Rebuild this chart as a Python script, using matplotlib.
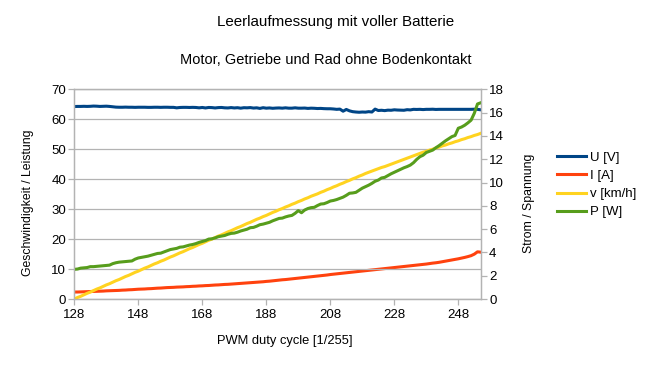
import matplotlib
matplotlib.use("Agg")
import matplotlib.pyplot as plt
from matplotlib.lines import Line2D

plt.rcParams['font.family'] = ['Liberation Sans', 'DejaVu Sans']

# ---- data ----
pwm = list(range(128, 256))

power_w = [
    9.9, 10.0, 10.3, 10.4, 10.5, 10.8, 10.8, 10.9, 11.0, 11.1,
    11.2, 11.3, 11.8, 12.1, 12.3, 12.4, 12.5, 12.6, 12.7, 13.3,
    13.7, 13.9, 14.1, 14.3, 14.6, 14.9, 15.2, 15.3, 15.7, 16.1,
    16.5, 16.7, 16.9, 17.3, 17.4, 17.7, 18.0, 18.2, 18.5, 18.9,
    19.2, 19.5, 20.0, 20.1, 20.4, 20.8, 21.0, 21.2, 21.6, 21.9,
    22.0, 22.3, 22.7, 23.0, 23.3, 23.8, 23.9, 24.3, 24.8, 25.0,
    25.3, 25.6, 26.1, 26.5, 26.9, 27.0, 27.4, 27.7, 27.9, 28.6,
    29.5, 28.8, 29.7, 30.2, 30.5, 30.6, 31.2, 31.7, 31.8, 32.2,
    32.7, 32.9, 33.2, 33.6, 34.0, 34.6, 35.3, 35.4, 35.6, 36.3,
    37.0, 37.5, 38.0, 38.6, 39.3, 39.7, 40.4, 40.6, 41.2, 41.8,
    42.3, 42.8, 43.3, 43.8, 44.2, 44.7, 45.5, 46.6, 47.5, 48.0,
    48.9, 49.3, 49.7, 50.5, 51.2, 52.0, 52.8, 53.5, 54.2, 54.6,
    57.0, 57.4, 58.0, 58.8, 59.7, 62.0, 65.1, 65.5,
]

speed_kmh = [
    0.0, 0.5, 0.9, 1.4, 1.9, 2.3, 2.8, 3.3, 3.7, 4.2,
    4.7, 5.1, 5.6, 6.1, 6.5, 7.0, 7.5, 7.9, 8.4, 8.9,
    9.3, 9.8, 10.3, 10.7, 11.2, 11.7, 12.1, 12.6, 13.0, 13.5,
    14.0, 14.4, 14.9, 15.4, 15.8, 16.3, 16.8, 17.2, 17.7, 18.2,
    18.6, 19.1, 19.6, 20.0, 20.5, 21.0, 21.4, 21.9, 22.4, 22.8,
    23.3, 23.8, 24.2, 24.7, 25.2, 25.6, 26.1, 26.6, 27.0, 27.5,
    27.9, 28.4, 28.9, 29.3, 29.8, 30.2, 30.7, 31.1, 31.6, 32.0,
    32.5, 32.9, 33.4, 33.8, 34.3, 34.7, 35.1, 35.6, 36.0, 36.5,
    36.9, 37.4, 37.8, 38.3, 38.7, 39.2, 39.6, 40.1, 40.5, 41.0,
    41.4, 41.9, 42.3, 42.7, 43.1, 43.5, 43.9, 44.2, 44.6, 45.0,
    45.4, 45.8, 46.2, 46.6, 47.0, 47.4, 47.8, 48.2, 48.6, 49.0,
    49.3, 49.7, 50.0, 50.4, 50.7, 51.1, 51.4, 51.8, 52.1, 52.5,
    52.8, 53.2, 53.5, 53.9, 54.2, 54.6, 54.9, 55.3,
]

voltage_v = [
    16.52, 16.53, 16.53, 16.54, 16.53, 16.54, 16.56, 16.55, 16.53, 16.54,
    16.55, 16.53, 16.50, 16.47, 16.46, 16.46, 16.47, 16.46, 16.46, 16.45,
    16.46, 16.46, 16.46, 16.45, 16.45, 16.46, 16.46, 16.45, 16.46, 16.46,
    16.45, 16.45, 16.41, 16.44, 16.45, 16.45, 16.44, 16.45, 16.44, 16.41,
    16.44, 16.40, 16.44, 16.43, 16.40, 16.43, 16.44, 16.41, 16.40, 16.43,
    16.40, 16.42, 16.38, 16.42, 16.41, 16.43, 16.39, 16.41, 16.36, 16.42,
    16.38, 16.40, 16.37, 16.39, 16.40, 16.38, 16.41, 16.38, 16.38, 16.41,
    16.38, 16.38, 16.39, 16.36, 16.38, 16.37, 16.35, 16.36, 16.34, 16.33,
    16.33, 16.31, 16.28, 16.30, 16.12, 16.27, 16.15, 16.08, 16.05, 16.03,
    16.05, 16.04, 16.08, 16.05, 16.30, 16.18, 16.20, 16.17, 16.21, 16.20,
    16.24, 16.22, 16.21, 16.20, 16.25, 16.23, 16.28, 16.27, 16.28, 16.26,
    16.28, 16.28, 16.29, 16.27, 16.28, 16.28, 16.28, 16.28, 16.28, 16.28,
    16.28, 16.28, 16.28, 16.28, 16.28, 16.29, 16.28, 16.24,
]

current_a = [
    0.60, 0.60, 0.61, 0.62, 0.63, 0.64, 0.65, 0.66, 0.67, 0.68,
    0.70, 0.71, 0.72, 0.73, 0.74, 0.76, 0.77, 0.79, 0.80, 0.82,
    0.84, 0.85, 0.86, 0.88, 0.89, 0.91, 0.93, 0.94, 0.96, 0.98,
    0.99, 1.00, 1.02, 1.03, 1.04, 1.06, 1.07, 1.09, 1.10, 1.12,
    1.13, 1.15, 1.16, 1.18, 1.20, 1.21, 1.23, 1.25, 1.26, 1.28,
    1.30, 1.32, 1.34, 1.36, 1.38, 1.40, 1.42, 1.44, 1.46, 1.48,
    1.51, 1.53, 1.56, 1.59, 1.62, 1.65, 1.67, 1.70, 1.73, 1.76,
    1.79, 1.82, 1.85, 1.88, 1.91, 1.94, 1.97, 2.00, 2.03, 2.06,
    2.10, 2.13, 2.16, 2.19, 2.22, 2.25, 2.28, 2.31, 2.34, 2.37,
    2.40, 2.43, 2.46, 2.49, 2.52, 2.55, 2.58, 2.61, 2.64, 2.67,
    2.70, 2.73, 2.76, 2.79, 2.82, 2.85, 2.88, 2.91, 2.94, 2.97,
    3.00, 3.04, 3.08, 3.11, 3.15, 3.20, 3.25, 3.30, 3.35, 3.40,
    3.45, 3.51, 3.57, 3.64, 3.72, 3.85, 4.05, 4.02,
]

x_ticks = [128, 148, 168, 188, 208, 228, 248]
left_ticks = [0, 10, 20, 30, 40, 50, 60, 70]
right_ticks = [0, 2, 4, 6, 8, 10, 12, 14, 16, 18]

labels = ['U [V]', 'I [A]', 'v [km/h]', 'P [W]']
colors = ['#004586', '#ff420e', '#ffd320', '#579d1c']

# ---- figure ----
W, H = 651, 369
fig = plt.figure(figsize=(W / 100, H / 100), dpi=100)
ax = fig.add_axes([74.3 / W, 1 - 299 / H, (480.7 - 74.3) / W, (299 - 89.3) / H])
ax2 = ax.twinx()
ax.set_zorder(ax2.get_zorder() + 1)
ax.patch.set_visible(False)

lw = 2.2
ax2.plot(pwm, voltage_v, color=colors[0], lw=lw, solid_joinstyle='round')
ax2.plot(pwm, current_a, color=colors[1], lw=lw, solid_joinstyle='round')
ax.plot(pwm, speed_kmh, color=colors[2], lw=lw, solid_joinstyle='round')
ax.plot(pwm, power_w, color=colors[3], lw=lw, solid_joinstyle='round')

grey = '#b3b3b3'
ax.set_xlim(128, 255)
ax.set_ylim(0, 70)
ax2.set_ylim(0, 18)
ax.set_xticks(x_ticks)
ax.set_yticks(left_ticks)
ax2.set_yticks(right_ticks)
ax.grid(axis='y', color=grey, lw=0.9)
ax.set_axisbelow(True)

for a in (ax, ax2):
    for s in a.spines.values():
        s.set_color(grey)
        s.set_linewidth(0.9)
    a.tick_params(colors=grey, labelcolor='black', labelsize=9.5, length=4, width=0.9)
ax.tick_params(axis='x', pad=3)
ax.tick_params(axis='y', pad=2)
ax2.tick_params(axis='y', pad=2)

fig.text(336 / W, 1 - 22 / H, 'Leerlaufmessung mit voller Batterie', ha='center', va='center', fontsize=10.9)
fig.text(326 / W, 1 - 60 / H, 'Motor, Getriebe und Rad ohne Bodenkontakt', ha='center', va='center', fontsize=10.5)
fig.text(284.5 / W, 1 - 341 / H, 'PWM duty cycle [1/255]', ha='center', va='center', fontsize=9.3)
fig.text(27.5 / W, 1 - 203 / H, 'Geschwindigkeit / Leistung', ha='center', va='center', rotation=90, fontsize=8.8)
fig.text(529 / W, 1 - 203 / H, 'Strom / Spannung', ha='center', va='center', rotation=90, fontsize=8.8)

handles = [Line2D([], [], color=c, lw=lw) for c in colors]
fig.legend(handles, labels, loc='center left', bbox_to_anchor=(557 / W, 1 - 185 / H),
           frameon=False, fontsize=9.5, handlelength=2.2, handletextpad=0.3,
           labelspacing=0.45, borderaxespad=0, borderpad=0)

fig.savefig('out.png', dpi=100)
